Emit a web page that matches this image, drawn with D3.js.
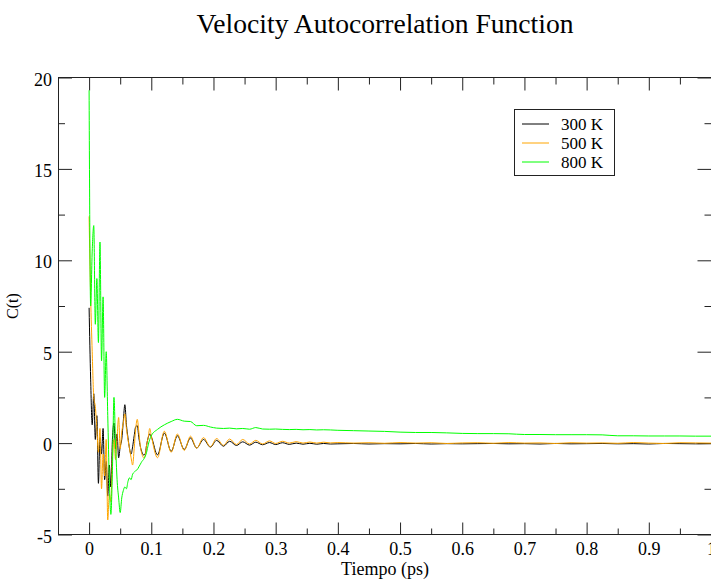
<!DOCTYPE html>
<html>
<head>
<meta charset="utf-8">
<title>Velocity Autocorrelation Function</title>
<script src="https://d3js.org/d3.v7.min.js"></script>
<style>
  body { margin: 0; background: #fff; }
  svg text { font-family: 'Liberation Serif', 'Times New Roman', serif; fill: #000; }
</style>
</head>
<body>
<svg id="chart" width="711" height="579"></svg>
<script>
// time axis (ps): dense start, then oscillation extremes, then coarse tail
var times = [
  0, 0.0025, 0.005, 0.0075, 0.01, 0.0125, 0.015, 0.0175, 0.02, 0.0225,
  0.025, 0.0275, 0.03, 0.0325, 0.035, 0.0375, 0.04, 0.0425, 0.045, 0.0475,
  0.05, 0.0525, 0.055, 0.0575, 0.06, 0.0625, 0.065, 0.0675, 0.07, 0.0725,
  0.075, 0.0775, 0.08, 0.0825, 0.085, 0.0875, 0.09, 0.0925, 0.095, 0.0975, 0.1,
  0.110, 0.121, 0.132, 0.142, 0.153, 0.163, 0.173, 0.184, 0.195, 0.205,
  0.216, 0.226, 0.237, 0.247, 0.258, 0.268, 0.279, 0.290, 0.300, 0.311,
  0.322, 0.333, 0.344, 0.355, 0.366, 0.377, 0.388,
  0.4, 0.425, 0.45, 0.475, 0.5, 0.525, 0.55, 0.575, 0.6, 0.625,
  0.65, 0.675, 0.7, 0.725, 0.75, 0.775, 0.8, 0.825, 0.85, 0.875,
  0.9, 0.925, 0.95, 0.975, 1.0
];

var c300 = [
  7.4, 3.5, 1.0, 2.7, 0.2, 1.5, -2.2, 0.3, -0.6, 0.8,
  -2.0, -1.0, -2.9, -1.2, -2.4, 0.2, 1.1, -0.3, 0.5, -0.8,
  -0.2, 0.2, 1.2, 2.1, 1.0, 0.3, -0.3, -0.6, -0.2, 0.4,
  0.9, 0.95, 0.3, -0.2, -0.5, -0.65, -0.6, -0.1, 0.3, 0.5, 0.35,
  -0.65, 0.55, -0.45, 0.40, -0.35, 0.28, -0.27, 0.20, -0.22, 0.15,
  -0.17, 0.10, -0.13, 0.07, -0.11, 0.05, -0.09, 0.03, -0.08, 0.02,
  -0.07, 0.0, -0.06, -0.01, -0.06, -0.02, -0.05,
  -0.04, -0.02, -0.05, -0.03, -0.04, -0.02, -0.05, -0.03, -0.04, -0.03,
  -0.02, -0.04, -0.03, -0.05, -0.02, -0.04, -0.03, -0.02, -0.04, -0.03,
  -0.05, -0.02, -0.03, -0.04, -0.03
];

var c500 = [
  12.4, 8.0, 5.0, 2.5, 2.0, 0.8, -0.5, 0.8, -2.5, -0.6,
  -1.8, 0.2, -4.2, -2.8, -3.2, -0.8, 0.2, -0.9, 0.3, 1.4,
  -0.3, 0.6, 1.1, 1.6, 0.8, 0.2, -0.3, -0.8, -1.2, -0.3,
  0.8, 1.3, 0.6, -0.2, -0.6, -0.8, -0.7, -0.1, 0.3, 0.8, 0.4,
  -0.8, 0.65, -0.5, 0.5, -0.4, 0.38, -0.28, 0.3, -0.2, 0.25,
  -0.12, 0.22, -0.08, 0.2, -0.05, 0.15, -0.05, 0.12, -0.02, 0.1,
  0.0, 0.08, 0.0, 0.06, 0.0, 0.05, 0.01,
  0.03, 0.0, 0.02, -0.01, 0.03, 0.0, 0.02, -0.02, 0.01, 0.02,
  -0.01, 0.03, 0.0, 0.01, -0.02, 0.02, 0.0, 0.01, -0.01, 0.03,
  0.0, -0.02, 0.02, 0.01, 0.0
];

var c800 = [
  19.3, 7.5, 10.5, 11.9, 6.5, 9.0, 5.5, 11.0, 4.5, 8.0,
  2.5, 5.0, 1.5, -2.0, -3.9, -1.5, 2.5, 0.0, -2.0, -3.0,
  -3.8, -3.0, -2.6, -2.4, -2.5, -2.1, -1.9, -2.0, -1.7, -1.6,
  -1.5, -1.45, -1.3, -1.15, -1.0, -0.9, -0.75, -0.5, -0.1, 0.2, 0.4,
  0.75, 1.0, 1.18, 1.3, 1.2, 1.18, 0.95, 0.97, 0.88, 0.82,
  0.8, 0.82, 0.78, 0.8, 0.76, 0.85, 0.77, 0.76, 0.77, 0.75,
  0.74, 0.75, 0.73, 0.74, 0.72, 0.73, 0.72,
  0.7, 0.68, 0.66, 0.64, 0.6, 0.58, 0.58, 0.56, 0.53, 0.52,
  0.52, 0.51, 0.47, 0.47, 0.46, 0.46, 0.46, 0.45, 0.4, 0.4,
  0.39, 0.39, 0.39, 0.38, 0.38
];

var seriesNames = ["300 K", "500 K", "800 K"];
var seriesColors = ["#000000", "#ffa500", "#00ff00"];
var seriesValues = [c300, c500, c800];

var xTicks = [0, 0.1, 0.2, 0.3, 0.4, 0.5, 0.6, 0.7, 0.8, 0.9, 1];
var xTickLabels = ["0", "0.1", "0.2", "0.3", "0.4", "0.5", "0.6", "0.7", "0.8", "0.9", "1"];
var xMinor = [0.05, 0.15, 0.25, 0.35, 0.45, 0.55, 0.65, 0.75, 0.85, 0.95];
var yTicks = [-5, 0, 5, 10, 15, 20];
var yTickLabels = ["-5", "0", "5", "10", "15", "20"];
var yMinor = [-2.5, 2.5, 7.5, 12.5, 17.5];

var svg = d3.select("#chart");
var x = d3.scaleLinear().domain([-0.05, 1.0]).range([58, 711]);
var y = d3.scaleLinear().domain([-5, 20]).range([534.5, 77.5]);

function styleAxis(g) {
  g.select(".domain").remove();
  g.attr("color", "#222").attr("font-size", null).attr("font-family", null);
  g.selectAll("line").attr("stroke-width", 1);
  g.selectAll("text").style("font-size", "18px");
}

// bottom axis
svg.append("g").attr("transform", "translate(0," + y(-5) + ")")
  .call(d3.axisBottom(x).tickValues(xTicks).tickSizeInner(-12).tickSizeOuter(0)
    .tickPadding(8).tickFormat(function(d, i) { return xTickLabels[i]; }))
  .call(styleAxis);
svg.append("g").attr("transform", "translate(0," + y(-5) + ")")
  .call(d3.axisBottom(x).tickValues(xMinor).tickSizeInner(-6).tickSizeOuter(0).tickFormat(""))
  .call(styleAxis);

// top axis
svg.append("g").attr("transform", "translate(0," + y(20) + ")")
  .call(d3.axisTop(x).tickValues(xTicks).tickSizeInner(-13).tickSizeOuter(0).tickFormat(""))
  .call(styleAxis);
svg.append("g").attr("transform", "translate(0," + y(20) + ")")
  .call(d3.axisTop(x).tickValues(xMinor).tickSizeInner(-7).tickSizeOuter(0).tickFormat(""))
  .call(styleAxis);

// left axis
svg.append("g").attr("transform", "translate(" + x(-0.05) + ",0)")
  .call(d3.axisLeft(y).tickValues(yTicks).tickSizeInner(-14).tickSizeOuter(0)
    .tickPadding(6).tickFormat(function(d, i) { return yTickLabels[i]; }))
  .call(styleAxis)
  .selectAll("text").attr("dy", "0.42em");
svg.append("g").attr("transform", "translate(" + x(-0.05) + ",0)")
  .call(d3.axisLeft(y).tickValues(yMinor).tickSizeInner(-7).tickSizeOuter(0).tickFormat(""))
  .call(styleAxis);

// right axis (frame edge sits just past the picture)
svg.append("g").attr("transform", "translate(" + (x(1) + 0.5) + ",0)")
  .call(d3.axisRight(y).tickValues(yTicks).tickSizeInner(-14).tickSizeOuter(0).tickFormat(""))
  .call(styleAxis);
svg.append("g").attr("transform", "translate(" + (x(1) + 0.5) + ",0)")
  .call(d3.axisRight(y).tickValues(yMinor).tickSizeInner(-7).tickSizeOuter(0).tickFormat(""))
  .call(styleAxis);

// frame
svg.append("rect")
  .attr("x", 58.5).attr("y", 77.5)
  .attr("width", 653).attr("height", 457)
  .attr("fill", "none").attr("stroke", "#222").attr("stroke-width", 1);

// curves
var line = d3.line()
  .x(function(d, i) { return x(times[i]); })
  .y(function(d) { return y(d); })
  .curve(d3.curveMonotoneX);

for (var s = 0; s < seriesValues.length; s++) {
  svg.append("path")
    .attr("d", line(seriesValues[s]))
    .attr("fill", "none")
    .attr("stroke", seriesColors[s])
    .attr("stroke-width", 1);
}

// titles
svg.append("text").attr("x", 385).attr("y", 33)
  .attr("text-anchor", "middle").style("font-size", "27.6px")
  .text("Velocity Autocorrelation Function");
svg.append("text").attr("x", 385).attr("y", 575)
  .attr("text-anchor", "middle").style("font-size", "18px")
  .text("Tiempo (ps)");
svg.append("text").attr("transform", "translate(18,306) rotate(-90)")
  .attr("text-anchor", "middle").style("font-size", "16px")
  .text("C(t)");

// legend
var legend = svg.append("g");
legend.append("rect")
  .attr("x", 514.5).attr("y", 109.5).attr("width", 100).attr("height", 66)
  .attr("fill", "#fff").attr("stroke", "#222").attr("stroke-width", 1);
for (var k = 0; k < seriesNames.length; k++) {
  var ly = 124 + k * 19;
  legend.append("line")
    .attr("x1", 522).attr("x2", 549).attr("y1", ly).attr("y2", ly)
    .attr("stroke", seriesColors[k]).attr("stroke-width", 1);
  legend.append("text")
    .attr("x", 561).attr("y", ly + 5.5)
    .style("font-size", "17px")
    .text(seriesNames[k]);
}
</script>
</body>
</html>
